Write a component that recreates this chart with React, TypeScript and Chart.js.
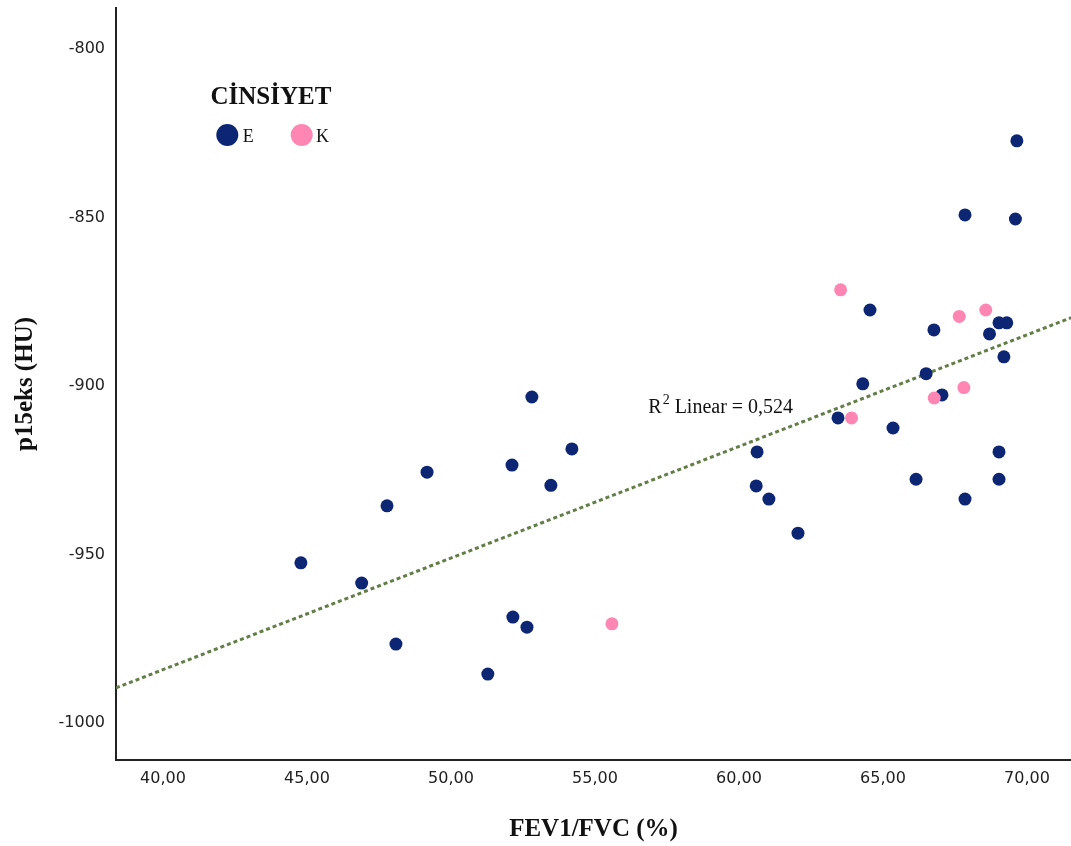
import React, { useEffect, useRef } from "react";
import { Chart, registerables } from "chart.js";

Chart.register(...registerables);

// Group E (navy)
const eX = [69.65, 67.85, 69.6, 64.55, 66.77, 69.03, 69.3, 68.7, 69.2, 66.5, 64.3, 67.05, 63.44, 65.35, 60.63, 69.03, 66.15, 69.03, 60.6, 67.85, 61.04, 62.05, 52.81, 54.2, 52.12, 49.17, 53.47, 47.78, 44.79, 46.9, 52.15, 52.64, 48.09, 51.28];
const eY = [-827.2, -849.2, -850.4, -877.4, -883.3, -881.2, -881.2, -884.5, -891.3, -896.3, -899.3, -902.6, -909.4, -912.4, -919.5, -919.5, -927.6, -927.6, -929.6, -933.5, -933.5, -943.6, -903.2, -918.6, -923.4, -925.5, -929.4, -935.5, -952.4, -958.4, -968.5, -971.5, -976.5, -985.4];

// Group K (pink)
const kX = [63.53, 67.65, 68.57, 66.78, 67.81, 63.91, 55.59];
const kY = [-871.4, -879.3, -877.4, -903.5, -900.4, -909.4, -970.5];

// Linear fit line endpoints
const fitX = [38.37, 71.53];
const fitY = [-989.5, -879.7];

const xTicks = [40, 45, 50, 55, 60, 65, 70];
const yTicks = [-1000, -950, -900, -850, -800];

const NAVY = "#0c2673";
const PINK = "#ff86b3";
const GREEN = "#627d45";

const overlayPlugin = {
  id: "overlay",
  afterDraw(chart: any) {
    const ctx = chart.ctx;
    const ca = chart.chartArea;
    ctx.save();
    ctx.fillStyle = "#111";
    // X title
    ctx.font = "bold 25px 'Liberation Serif'";
    ctx.textAlign = "center";
    ctx.textBaseline = "alphabetic";
    ctx.fillText("FEV1/FVC (%)", (ca.left + ca.right) / 2, 836);
    // Y title
    ctx.save();
    ctx.translate(32, (ca.top + ca.bottom) / 2);
    ctx.rotate(-Math.PI / 2);
    ctx.fillText("p15eks (HU)", 0, 0);
    ctx.restore();
    // Legend
    ctx.textAlign = "left";
    ctx.font = "bold 25px 'Liberation Serif'";
    ctx.fillText("CİNSİYET", 210.5, 104.3);
    ctx.beginPath();
    ctx.fillStyle = NAVY;
    ctx.arc(227.3, 135, 11, 0, Math.PI * 2);
    ctx.fill();
    ctx.beginPath();
    ctx.fillStyle = PINK;
    ctx.arc(301.7, 135, 11, 0, Math.PI * 2);
    ctx.fill();
    ctx.fillStyle = "#111";
    ctx.font = "18px 'Liberation Serif'";
    ctx.fillText("E", 242.7, 141.7);
    ctx.fillText("K", 316, 141.7);
    // R² label
    ctx.font = "20px 'Liberation Serif'";
    ctx.fillText("R", 648.3, 413.3);
    const rw = ctx.measureText("R").width;
    ctx.font = "14px 'Liberation Serif'";
    ctx.fillText("2", 648.3 + rw + 1, 404);
    const sw = ctx.measureText("2").width;
    ctx.font = "20px 'Liberation Serif'";
    ctx.fillText(" Linear = 0,524", 648.3 + rw + 1 + sw, 413.3);
    ctx.restore();
  },
};

export default function App() {
  const ref = useRef<HTMLCanvasElement>(null);
  useEffect(() => {
    if (!ref.current) return;
    const chart = new Chart(ref.current, {
      type: "scatter",
      data: {
        datasets: [
          {
            type: "line",
            label: "fit",
            data: fitX.map((x, i) => ({ x, y: fitY[i] })),
            borderColor: GREEN,
            borderWidth: 3,
            borderDash: [4, 3],
            pointRadius: 0,
            fill: false,
            order: 3,
          } as any,
          {
            label: "E",
            data: eX.map((x, i) => ({ x, y: eY[i] })),
            backgroundColor: NAVY,
            borderColor: NAVY,
            borderWidth: 0,
            pointRadius: 6.5,
            order: 2,
          },
          {
            label: "K",
            data: kX.map((x, i) => ({ x, y: kY[i] })),
            backgroundColor: PINK,
            borderColor: PINK,
            borderWidth: 0,
            pointRadius: 6.5,
            order: 1,
          },
        ],
      },
      options: {
        responsive: false,
        animation: false,
        layout: { autoPadding: false, padding: { top: 8, left: 0, right: 0, bottom: 0 } },
        plugins: { legend: { display: false }, tooltip: { enabled: false } },
        scales: {
          x: {
            type: "linear",
            min: 38.37,
            max: 71.53,
            afterFit: (s: any) => {
              s.height = 86;
              s.paddingLeft = 0;
              s.paddingRight = 0;
              s.paddingTop = 0;
              s.paddingBottom = 0;
            },
            afterBuildTicks: (s: any) => { s.ticks = xTicks.map((v) => ({ value: v })); },
            grid: { display: false, drawTicks: false },
            border: { display: true, color: "#222", width: 2 },
            ticks: {
              includeBounds: false,
              padding: 9,
              color: "#222",
              font: { family: "DejaVu Sans", size: 16 },
              callback: (v: any) => Number(v).toFixed(2).replace(".", ","),
            },
          },
          y: {
            type: "linear",
            min: -1010.9,
            max: -787.8,
            afterFit: (s: any) => {
              s.width = 116;
              s.paddingLeft = 0;
              s.paddingRight = 0;
              s.paddingTop = 0;
              s.paddingBottom = 0;
            },
            afterBuildTicks: (s: any) => { s.ticks = yTicks.map((v) => ({ value: v })); },
            grid: { display: false, drawTicks: false },
            border: { display: true, color: "#222", width: 2 },
            ticks: {
              includeBounds: false,
              padding: 11,
              color: "#222",
              font: { family: "DejaVu Sans", size: 16 },
              callback: (v: any) => String(v),
            },
          },
        },
      },
      plugins: [overlayPlugin],
    });
    return () => chart.destroy();
  }, []);
  return (
    <canvas
      ref={ref}
      width={1071}
      height={846}
      style={{ position: "absolute", left: 0, top: 0, width: 1071, height: 846 }}
    />
  );
}
